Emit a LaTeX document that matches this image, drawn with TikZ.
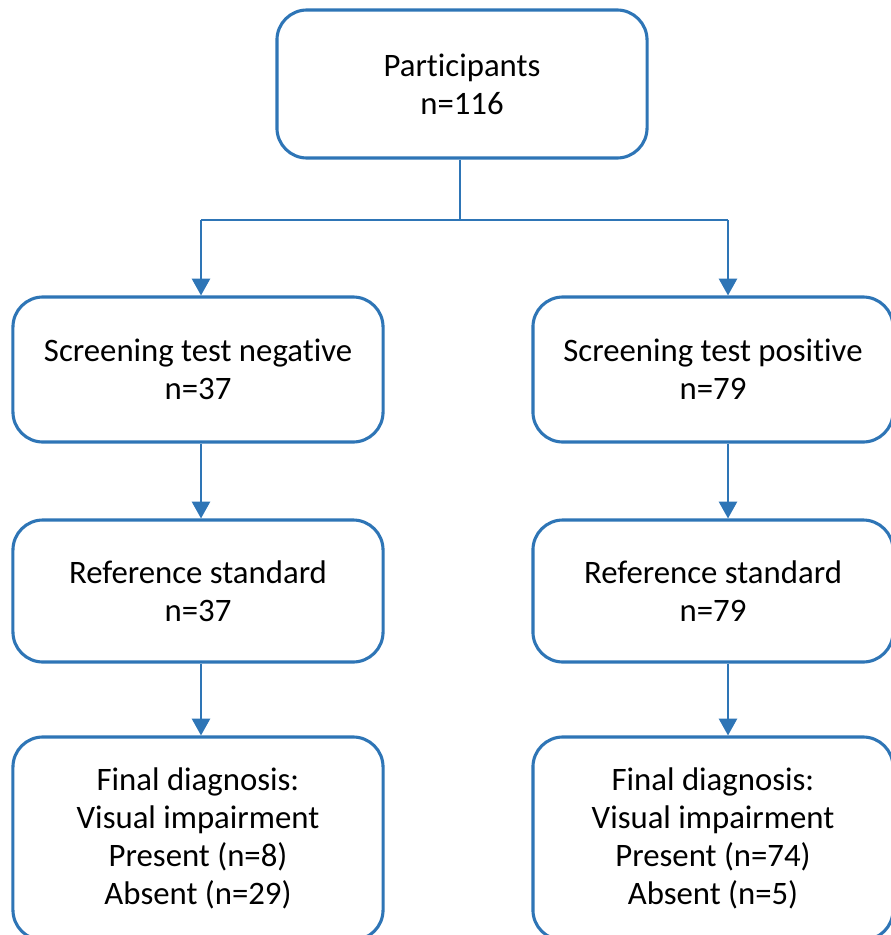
\documentclass[tikz,border=0pt]{standalone}
\usepackage{fontspec}
\setmainfont{Carlito}[Ligatures=NoCommon]
\usepackage{xcolor}
\usepackage{tikz}
\definecolor{flowBlue}{HTML}{2E75B6}
\usetikzlibrary{arrows.meta}

\begin{document}
\begin{tikzpicture}[x=0.025cm,y=-0.025cm,
    every node/.style={font=\fontsize{23.3}{27}\selectfont, align=center},
    flowbox/.style={draw=flowBlue, line width=2.2pt, rounded corners=0.75cm, fill=white, inner sep=0pt},
    flowarrow/.style={draw=flowBlue, line width=1.4pt, -{Triangle[width=13pt,length=12pt]}},
    flowline/.style={draw=flowBlue, line width=1.4pt}]
  \useasboundingbox (0,0) rectangle (891,935);
  \clip (0,0) rectangle (891,935);
  % boxes
  \node[flowbox, minimum width=9.25cm, minimum height=3.7cm] (part) at (462,84) {Participants\\n=116};
  \node[flowbox, minimum width=9.25cm, minimum height=3.625cm] (neg) at (198,369.5) {Screening test negative\\n=37};
  \node[flowbox, minimum width=9cm, minimum height=3.625cm] (pos) at (713,369.5) {Screening test positive\\n=79};
  \node[flowbox, minimum width=9.25cm, minimum height=3.55cm] (refneg) at (198,591) {Reference standard\\n=37};
  \node[flowbox, minimum width=9cm, minimum height=3.55cm] (refpos) at (713,591) {Reference standard\\n=79};
  \node[flowbox, minimum width=9.25cm, minimum height=5.075cm] (finneg) at (198,838.5) {Final diagnosis:\\Visual impairment\\Present (n=8)\\Absent (n=29)};
  \node[flowbox, minimum width=9cm, minimum height=5.075cm] (finpos) at (713,838.5) {Final diagnosis:\\Visual impairment\\Present (n=74)\\Absent (n=5)};
  % connectors
  \coordinate (split) at (460,220);
  \coordinate (colL) at (201,0);
  \coordinate (colR) at (728,0);
  \draw[flowline] (part.south -| split) -- (split);
  \draw[flowline] (split -| colL) -- (split -| colR);
  \draw[flowarrow] (split -| colL) -- (neg.north -| colL);
  \draw[flowarrow] (split -| colR) -- (pos.north -| colR);
  \draw[flowarrow] (neg.south -| colL) -- (refneg.north -| colL);
  \draw[flowarrow] (pos.south -| colR) -- (refpos.north -| colR);
  \draw[flowarrow] (refneg.south -| colL) -- (finneg.north -| colL);
  \draw[flowarrow] (refpos.south -| colR) -- (finpos.north -| colR);
\end{tikzpicture}
\end{document}
